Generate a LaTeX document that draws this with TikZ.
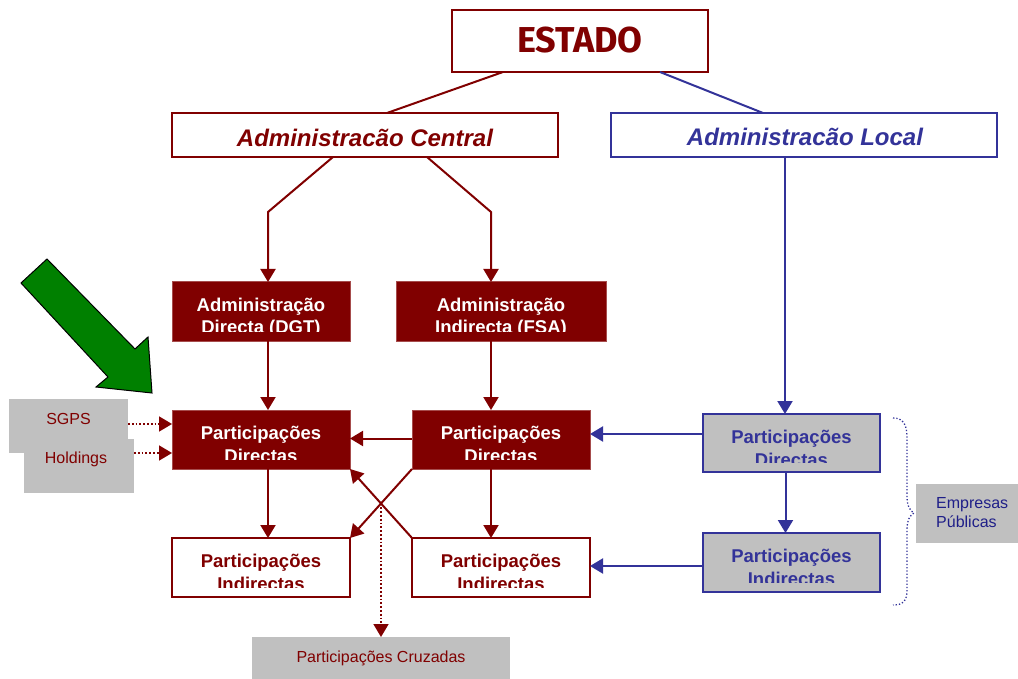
\documentclass[tikz,border=0pt]{standalone}
\usepackage{fontspec}
\setmainfont{Liberation Sans}
\newfontfamily\estfont{Fira Sans}
\usetikzlibrary{arrows.meta,fit,calc}
\definecolor{dred}{HTML}{800000}
\definecolor{dblue}{HTML}{333399}
\definecolor{navyt}{HTML}{1F1F88}
\definecolor{lgray}{HTML}{C0C0C0}
\definecolor{agreen}{HTML}{008000}
\newcommand\cliptwo[4]{%
  \begin{scope}
    \clip (#1.north west) rectangle ([yshift=10pt]#1.south east);
    \node[txt,#2] (#1-a) at ([yshift=-29.5pt]#1.north) {#3};
    \node[txt,#2] (#1-b) at ([yshift=-52pt]#1.north) {#4};
  \end{scope}}
\begin{document}
\begin{tikzpicture}[x=1pt,y=-1pt,
  box/.style={rectangle, inner sep=0pt, outer sep=0pt, line width=1.8pt},
  wbox/.style={box, draw=dred, fill=white},
  rbox/.style={box, draw=dred!70!white, line width=1pt, fill=dred},
  bbox/.style={box, draw=dblue, fill=white},
  gbbox/.style={box, draw=dblue, fill=lgray},
  gbox/.style={box, fill=lgray},
  txt/.style={inner sep=0pt, anchor=base},
  bigtxt/.style={font=\bfseries\fontsize{18.5}{22}\selectfont},
  smalltxt/.style={font=\fontsize{16}{19}\selectfont},
  rline/.style={draw=dred, line width=2pt},
  bline/.style={draw=dblue, line width=2pt},
  rarr/.style={rline, -{Triangle[length=13pt,width=15pt]}},
  barr/.style={bline, -{Triangle[length=13pt,width=15pt]}},
  rdot/.style={rarr, line width=1.8pt, dotted}
]
\useasboundingbox (0,0) rectangle (1018,679);

% top level
\node[wbox, fit={(452,10) (708,72)}] (estado) {};
\node[txt, text=dred, font=\estfont\bfseries\fontsize{36}{40}\selectfont] (estado-t) at (580,53) {ESTADO};
\node[wbox, fit={(172,113) (558,157)}] (ac) {};
\node[txt, text=dred, font=\bfseries\itshape\fontsize{24}{28}\selectfont] (ac-t) at (365,147) {Administracão Central};
\node[bbox, fit={(611,113) (997,157)}] (al) {};
\node[txt, text=dblue, font=\bfseries\itshape\fontsize{24}{28}\selectfont] (al-t) at (805,146) {Administracão Local};

% dark red boxes
\node[rbox, fit={(172,282) (350,341)}] (dgt) {};
\node[rbox, fit={(396,282) (606,341)}] (fsa) {};
\node[rbox, fit={(172,410) (350,469)}] (pdl) {};
\node[rbox, fit={(412,410) (590,469)}] (pdm) {};
\node[wbox, fit={(172,538) (350,597)}] (pil) {};
\node[wbox, fit={(412,538) (590,597)}] (pim) {};
\node[gbbox, fit={(703,414) (880,472)}] (pdr) {};
\node[gbbox, fit={(703,533) (880,592)}] (pir) {};

\cliptwo{dgt}{bigtxt, text=white}{Administração}{Directa (DGT)}
\cliptwo{fsa}{bigtxt, text=white}{Administração}{Indirecta (FSA)}
\cliptwo{pdl}{bigtxt, text=white}{Participações}{Directas}
\cliptwo{pdm}{bigtxt, text=white}{Participações}{Directas}
\cliptwo{pil}{bigtxt, text=dred}{Participações}{Indirectas}
\cliptwo{pim}{bigtxt, text=dred}{Participações}{Indirectas}
\cliptwo{pdr}{bigtxt, text=dblue}{Participações}{Directas}
\cliptwo{pir}{bigtxt, text=dblue}{Participações}{Indirectas}

% gray side boxes
\node[gbox, fit={(9,399) (128,453)}] (sgps) {};
\node[txt, smalltxt, text=dred] (sgps-t) at (68.5,424) {SGPS};
\node[gbox, fit={(24,439) (134,493)}] (hold) {};
\node[txt, smalltxt, text=dred] (hold-t) at (76,463) {Holdings};
\node[gbox, fit={(252,637) (510,679)}] (cruz) {};
\node[txt, smalltxt, text=dred] (cruz-t) at (381,662) {Participações Cruzadas};
\node[gbox, fit={(916,484) (1018,543)}] (emp) {};
\node[txt, smalltxt, text=navyt, anchor=base west] (emp-a) at (936,508) {Empresas};
\node[txt, smalltxt, text=navyt, anchor=base west] (emp-b) at (936,527) {Públicas};

% connectors: top
\draw[rline] ([xshift=-77pt]estado.south) -- ([xshift=22pt]ac.north);
\draw[bline] ([xshift=80pt]estado.south) -- ([xshift=-41pt]al.north);
\draw[rarr] ([xshift=-32pt]ac.south) -- ([xshift=7pt,yshift=70pt]dgt.north) -- ([xshift=7pt]dgt.north);
\draw[rarr] ([xshift=62pt]ac.south) -- ([xshift=-10pt,yshift=70pt]fsa.north) -- ([xshift=-10pt]fsa.north);
\draw[barr] ([xshift=-19pt]al.south) -- ([xshift=-19pt]al.south |- pdr.north);

% vertical red
\draw[rarr] ([xshift=7pt]dgt.south) -- ([xshift=7pt]pdl.north);
\draw[rarr] ([xshift=-10pt]fsa.south) -- ([xshift=-10pt]fsa.south |- pdm.north);
\draw[rarr] ([xshift=7pt]pdl.south) -- ([xshift=7pt]pil.north);
\draw[rarr] ([xshift=-10pt]pdm.south) -- ([xshift=-10pt]pim.north);

% horizontal and cross
\draw[rarr] ([yshift=1pt]pdm.west) -- ([yshift=1pt]pdl.east);
\draw[rarr] (pdm.south west) -- (pil.north east);
\draw[rarr] (pim.north west) -- (pdl.south east);
\coordinate (cross) at ($(pdm.south west)!0.5!(pil.north east)$);
\draw[rdot] (cross) -- (cross |- cruz.north);

% blue
\draw[barr] ([xshift=-6pt]pdr.south) -- ([xshift=-6pt]pir.north);
\draw[barr] ([yshift=9pt]pdr.west) -- ([yshift=9pt]pdr.west -| pdm.east);
\draw[barr] ([yshift=-3.5pt]pir.west) -- ([yshift=-3.5pt]pir.west -| pim.east);

% dotted from SGPS/Holdings
\draw[rdot] ([yshift=2pt]sgps.east) -- ([yshift=2pt]sgps.east -| pdl.west);
\draw[rdot] ([yshift=13pt]hold.east) -- ([yshift=13pt]hold.east -| pdl.west);

% brace
\draw[dblue, line width=1.3pt, dotted]
  (893,418) .. controls (903,418) and (907,424) .. (907,438)
  -- (907,496) .. controls (907,506) and (910,511) .. (914,513)
  .. controls (910,515) and (907,520) .. (907,530)
  -- (907,590) .. controls (907,601) and (903,605) .. (893,605);

% green arrow
\draw[fill=agreen, draw=black, line width=1pt, line join=miter]
  (47,259) -- (135,349) -- (148,337) -- (152,393) -- (96,387) -- (108,377) -- (21,283) -- cycle;
\end{tikzpicture}
\end{document}
